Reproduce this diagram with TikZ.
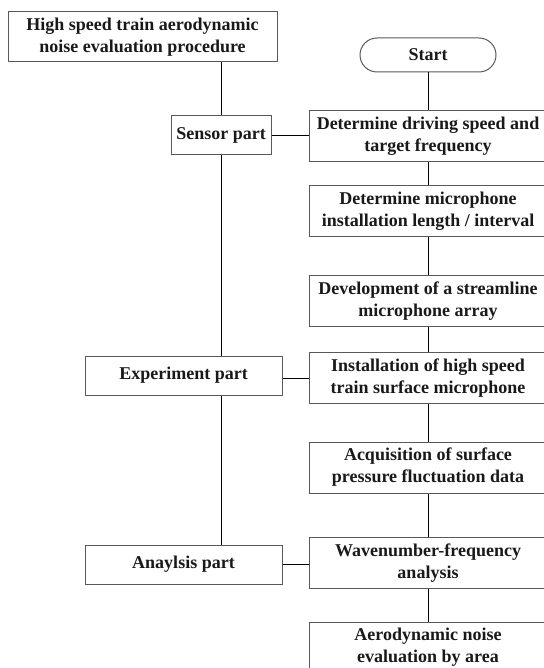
\documentclass[tikz,border=0pt]{standalone}
\usepackage{fontspec}
\setmainfont{Liberation Serif}

\begin{document}
\begin{tikzpicture}[x=1pt, y=-1pt,
    box/.style ={rectangle, draw=black!65, line width=1pt, align=center, inner sep=2pt,
      text=black!90, font=\fontsize{18}{22}\selectfont\bfseries},
    stepbox/.style ={box, minimum width=238pt, minimum height=51pt},
    partbox/.style ={box, minimum height=39pt},
    startbox/.style ={box, rounded corners=17pt, minimum width=136pt, minimum height=34pt}]
   \useasboundingbox (0,0) rectangle (543,668);

   % left column
   \node[box, minimum width=269pt, minimum height=50pt] (title) at (142.5,37) {High speed train aerodynamic\\noise evaluation procedure};
   \node[partbox, minimum width=100pt] (sensor) at (221,135.5) {Sensor part};
   \node[partbox, minimum width=197pt] (experiment) at (183.5,375.5) {Experiment part};
   \node[partbox, minimum width=197pt] (analysis) at (183.5,564.5) {Anaylsis part};

   % right column
   \node[startbox] (start) at (428,55) {Start};
   \node[stepbox] (s1) at (428,136) {Determine driving speed and\\target frequency};
   \node[stepbox] (s2) at (428,211) {Determine microphone\\installation length / interval};
   \node[stepbox] (s3) at (428,301) {Development of a streamline\\microphone array};
   \node[stepbox] (s4) at (428,378) {Installation of high speed\\train surface microphone};
   \node[stepbox] (s5) at (428,467.5) {Acquisition of surface\\pressure fluctuation data};
   \node[stepbox] (s6) at (428,563) {Wavenumber-frequency\\analysis};
   \node[stepbox] (s7) at (428,647.5) {Aerodynamic noise\\evaluation by area};

   \draw[thick] (title.south -| sensor.north) to (sensor.north);
   \draw[thick] (sensor.south) to (sensor.south |- experiment.north);
   \draw[thick] (sensor.south |- experiment.south) to (sensor.south |- analysis.north);

   \draw[thick] (start) to (s1);
   \draw[thick] (s1) to (s2);
   \draw[thick] (s2) to (s3);
   \draw[thick] (s3) to (s4);
   \draw[thick] (s4) to (s5);
   \draw[thick] (s5) to (s6);
   \draw[thick] (s6) to (s7);

   \draw[thick] (sensor.east) to (sensor.east -| s1.west);
   \draw[thick] (experiment.east |- s4.west) to (s4.west);
   \draw[thick] (analysis.east) to (analysis.east -| s6.west);
 \end{tikzpicture}
\end{document}
